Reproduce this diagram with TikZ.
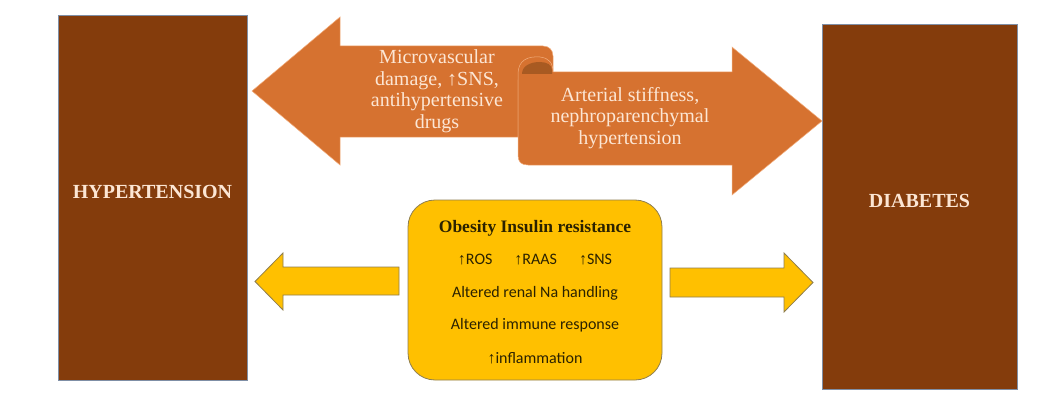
\documentclass[tikz,border=0pt]{standalone}
\usepackage{fontspec}
\setmainfont{Liberation Serif}
\newfontfamily\calibri{Carlito}
\newfontfamily\arrsans{Liberation Sans}
\usetikzlibrary{positioning}
\definecolor{brownbox}{HTML}{843C0C}
\definecolor{boxline}{HTML}{7F8FA6}
\definecolor{ribbon}{HTML}{D67230}
\definecolor{ribbonedge}{HTML}{F2AE7E}
\definecolor{ribbondark}{HTML}{A85A22}
\definecolor{ribbontext}{HTML}{FCE6D4}
\definecolor{gold}{HTML}{FFC000}
\definecolor{goldline}{HTML}{8E7E50}
\definecolor{goldtext}{HTML}{2B2200}

\begin{document}
\begin{tikzpicture}[x=1pt, y=-1pt,
    disease/.style={draw=boxline, line width=0.8pt, fill=brownbox, minimum width=#1, minimum height=365pt, inner sep=0pt},
    title/.style={text=ribbontext, font=\fontsize{20}{24}\selectfont\bfseries},
    band/.style={fill=ribbon, draw=ribbonedge, line width=0.5pt},
    ribbontxt/.style={text=ribbontext, align=center, font=\fontsize{20}{21.5}\selectfont},
    goldarrow/.style={draw=goldline, line width=0.8pt, fill=gold},
    factor/.style={text=goldtext, font=\calibri\fontsize{16}{19}\selectfont}]
  \useasboundingbox (0,0) rectangle (1061,412);

  % the two conditions
  \node[disease=189pt] (htn) at (152.5,197.5) {};
  \node[title] (htnlabel) at ([yshift=6pt]htn.center) {HYPERTENSION};
  \node[disease=195pt] (dm) at (919.5,206.5) {};
  \node[title] (dmlabel) at ([yshift=6pt]dm.center) {DIABETES};

  % ribbon arrow, upper band to the left
  \path[band] (340,46) -- (543,46) .. controls (549,46) and (553,50) .. (553,56) -- (553,80) -- (518,80)
    -- (518,137) -- (340,137) -- (340,165) -- (252,91) -- (340,17) -- cycle;
  % lower band to the right
  \path[band] (518,74) .. controls (518,60) and (528,56) .. (540,57) .. controls (549,58) and (553,63) .. (553,72)
    -- (732,72) -- (732,47) -- (822,121) -- (732,195) -- (732,165) -- (528,165)
    .. controls (521,165) and (518,162) .. (518,155) -- cycle;
  \fill[ribbondark] (522,74) .. controls (522,66) and (530,62) .. (540,62) .. controls (547,62) and (552,65) .. (552,70) -- (552,74) -- cycle;
  \node[ribbontxt] (damage) at (437,91) {Microvascular\\damage, ↑SNS,\\antihypertensive\\drugs};
  \node[ribbontxt] (stiffness) at (630,118) {Arterial stiffness,\\nephroparenchymal\\hypertension};

  % shared causes
  \node[draw=goldline, fill=gold, line width=0.8pt, rounded corners=27pt, minimum width=254pt, minimum height=180pt] (causes) at (535,290) {};
  \node[text=goldtext, font=\fontsize{17.5}{20}\selectfont\bfseries] (obesity) at (535,228) {Obesity Insulin resistance};
  \node[factor] (ros) at (535,260) {{\arrsans↑}ROS\hspace{22pt}{\arrsans↑}RAAS\hspace{22pt}{\arrsans↑}SNS};
  \node[factor] (renal) at (535,293) {Altered renal Na handling};
  \node[factor] (immune) at (535,325) {Altered immune response};
  \node[factor] (inflam) at (535,358) {{\arrsans↑}inflammation};

  \path[goldarrow] (399,267) -- (283,267) -- (283,253) -- (255,281.5) -- (283,310) -- (283,295) -- (399,295) -- cycle;
  \path[goldarrow] (670,268) -- (784,268) -- (784,253) -- (813,282.5) -- (784,312) -- (784,297) -- (670,297) -- cycle;
\end{tikzpicture}
\end{document}
